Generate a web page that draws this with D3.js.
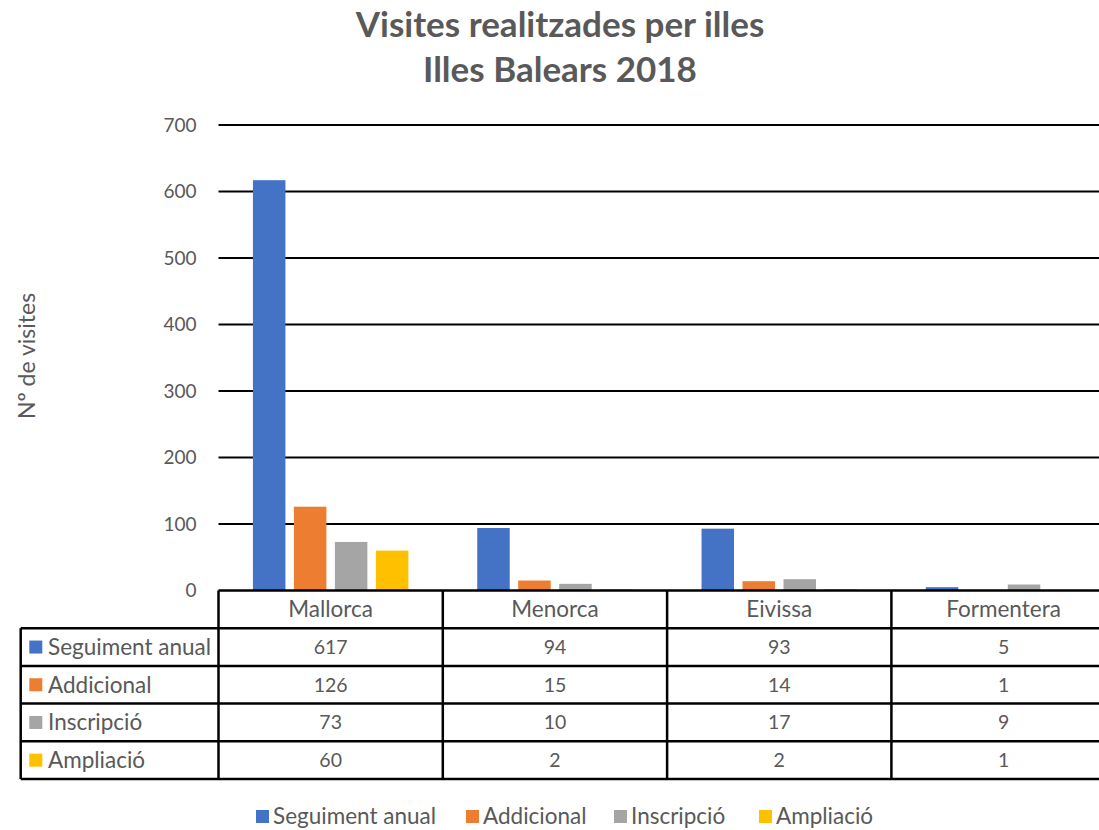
<!DOCTYPE html>
<html>
<head>
<meta charset="utf-8">
<script src="https://cdn.jsdelivr.net/npm/d3@7/dist/d3.min.js"></script>
<style>
  html, body { margin: 0; padding: 0; background: #fff; }
  svg { display: block; }
  text { font-family: Lato, "Open Sans", sans-serif; fill: #595959; }
</style>
</head>
<body>
<svg id="chart" width="1099" height="830"></svg>
<script>
// Visites per illa i per tipus (Illes Balears 2018)
const categories = ["Mallorca", "Menorca", "Eivissa", "Formentera"];
const seriesNames = ["Seguiment anual", "Addicional", "Inscripció", "Ampliació"];
const seguimentAnual = [617, 94, 93, 5];
const addicional = [126, 15, 14, 1];
const inscripcio = [73, 10, 17, 9];
const ampliacio = [60, 2, 2, 1];
const yTicks = [0, 100, 200, 300, 400, 500, 600, 700];
const colors = ["#4472C4", "#ED7D31", "#A5A5A5", "#FFC000"];

const seriesValues = [seguimentAnual, addicional, inscripcio, ampliacio];

const svg = d3.select("#chart");

// Plot frame
const plotLeft = 218.5, colW = 224.3;
const plotRight = plotLeft + colW * categories.length;
const y0 = 590.5, yTop = 125;
const tableLeft = 20.7;
const headerBottom = 628.2, rowH = 37.7;
const labelSize = "22.5px", numberSize = "19.5px";

const x0 = d3.scaleBand().domain(categories).range([plotLeft, plotRight]).padding(0);
const x1 = d3.scaleBand().domain(seriesNames).range([0, x0.bandwidth()])
  .paddingInner(0.207).paddingOuter(0.84);
const y = d3.scaleLinear().domain([0, 700]).range([y0, yTop]);
const color = d3.scaleOrdinal().domain(seriesNames).range(colors);

// Title
const title = svg.append("text")
  .attr("x", 560).attr("text-anchor", "middle")
  .style("font-weight", "bold").style("font-size", "35px");
title.append("tspan").attr("x", 560).attr("y", 37).text("Visites realitzades per illes");
title.append("tspan").attr("x", 560).attr("y", 82).text("Illes Balears 2018");

// Gridlines and value axis
const yAxis = d3.axisLeft(y).tickValues(yTicks).tickSize(0).tickPadding(0);
const gAxis = svg.append("g").attr("transform", `translate(${plotLeft},0)`).call(yAxis);
gAxis.select(".domain").remove();
gAxis.selectAll(".tick text")
  .attr("x", -22).style("font-size", "19px").style("fill", "#595959")
  .style("font-family", "Lato, sans-serif");

svg.append("g").selectAll("line").data(yTicks.filter(t => t > 0)).join("line")
  .attr("x1", plotLeft).attr("x2", plotRight)
  .attr("y1", d => y(d)).attr("y2", d => y(d))
  .attr("stroke", "#000").attr("stroke-width", 2);

// Y axis title
svg.append("text")
  .attr("transform", `translate(35,356) rotate(-90)`)
  .attr("text-anchor", "middle").style("font-size", "23px")
  .text("Nº de visites");

// Bars
const barData = [];
categories.forEach((c, ci) => {
  seriesNames.forEach((s, si) => {
    barData.push({ cat: c, series: s, value: seriesValues[si][ci] });
  });
});
svg.append("g").selectAll("rect").data(barData).join("rect")
  .attr("x", d => x0(d.cat) + x1(d.series))
  .attr("width", x1.bandwidth())
  .attr("y", d => y(d.value))
  .attr("height", d => y(0) - y(d.value))
  .attr("fill", d => color(d.series));

// Data table
const table = svg.append("g");
const tableBottom = headerBottom + rowH * seriesNames.length;
const lineAttrs = sel => sel.attr("stroke", "#000").attr("stroke-width", 2.5);

// horizontal rules
table.append("line").attr("x1", plotLeft).attr("x2", plotRight)
  .attr("y1", y0).attr("y2", y0).call(lineAttrs);
seriesNames.forEach((s, i) => {
  const yy = headerBottom + rowH * i;
  table.append("line").attr("x1", tableLeft).attr("x2", plotRight)
    .attr("y1", yy).attr("y2", yy).call(lineAttrs);
});
table.append("line").attr("x1", tableLeft).attr("x2", plotRight)
  .attr("y1", tableBottom).attr("y2", tableBottom).call(lineAttrs);

// vertical rules
table.append("line").attr("x1", tableLeft).attr("x2", tableLeft)
  .attr("y1", headerBottom).attr("y2", tableBottom).call(lineAttrs);
categories.forEach(c => {
  const xx = x0(c);
  table.append("line").attr("x1", xx).attr("x2", xx)
    .attr("y1", y0).attr("y2", tableBottom).call(lineAttrs);
});

// category header
table.selectAll("text.cat").data(categories).join("text")
  .attr("class", "cat")
  .attr("x", d => x0(d) + x0.bandwidth() / 2)
  .attr("y", (y0 + headerBottom) / 2)
  .attr("dy", "0.35em").attr("text-anchor", "middle")
  .style("font-size", labelSize)
  .text(d => d);

// row labels with colour keys
seriesNames.forEach((s, si) => {
  const cy = headerBottom + rowH * si + rowH / 2;
  table.append("rect").attr("x", 29.3).attr("y", cy - 6.5)
    .attr("width", 13).attr("height", 13).attr("fill", colors[si]);
  table.append("text").attr("x", 48).attr("y", cy).attr("dy", "0.35em")
    .style("font-size", labelSize).text(s);
  categories.forEach((c, ci) => {
    table.append("text")
      .attr("x", x0(c) + x0.bandwidth() / 2).attr("y", cy)
      .attr("dy", "0.35em").attr("text-anchor", "middle")
      .style("font-size", numberSize)
      .text(seriesValues[si][ci]);
  });
});

// Legend
const legendX = [256, 466, 614, 759];
const legend = svg.append("g");
seriesNames.forEach((s, i) => {
  legend.append("rect").attr("x", legendX[i]).attr("y", 810)
    .attr("width", 13).attr("height", 13).attr("fill", colors[i]);
  legend.append("text").attr("x", legendX[i] + 17).attr("y", 816.5)
    .attr("dy", "0.35em").style("font-size", labelSize).text(s);
});
</script>
</body>
</html>
